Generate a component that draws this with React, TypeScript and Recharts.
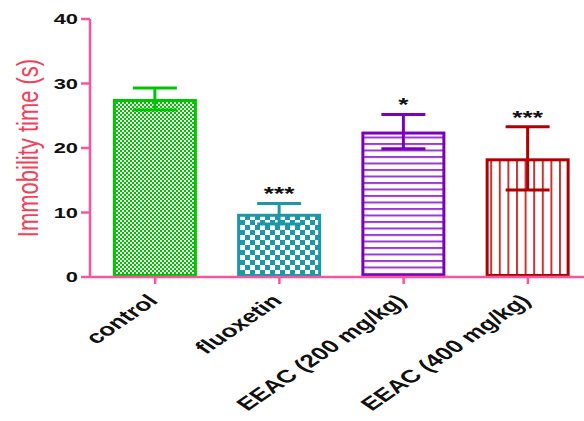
import { BarChart, Bar, XAxis, YAxis, Cell } from 'recharts';

const groups = ['control', 'fluoxetin', 'EEAC (200 mg/kg)', 'EEAC (400 mg/kg)'];
const means = [27.6, 9.8, 22.55, 18.4];
const sems = [1.72, 1.6, 2.65, 4.9];
const stars = ['', '***', '*', '***'];
const yTicks = [0, 10, 20, 30, 40];

const edgeColors = ['#00c400', '#1b98a8', '#7a00bd', '#b00000'];
const patternIds = ['pat-check-fine', 'pat-check', 'pat-hlines', 'pat-vlines'];

const AXIS = '#f7569f';
const FONT = '"Liberation Sans", Arial, sans-serif';
const STRETCH = 1.46;

const data = groups.map((name, i) => ({
  name,
  mean: means[i],
  sem: sems[i],
  star: stars[i],
  color: edgeColors[i],
}));

function BarWithError(props: any) {
  const { x, y, width, height, payload, fill } = props;
  const ppu = payload.mean ? height / payload.mean : 0;
  const cx = x + width / 2;
  const top = y - payload.sem * ppu;
  const bottom = y + payload.sem * ppu;
  const cap = 22;
  const c = payload.color;
  return (
    <g>
      <rect x={x + 1.5} y={y + 1.5} width={width - 3} height={height - 3} fill={fill} stroke={c} strokeWidth={3} />
      <line x1={cx} x2={cx} y1={top} y2={bottom} stroke={c} strokeWidth={3} />
      <line x1={cx - cap} x2={cx + cap} y1={top} y2={top} stroke={c} strokeWidth={3} />
      <line x1={cx - cap} x2={cx + cap} y1={bottom} y2={bottom} stroke={c} strokeWidth={3} />
      {payload.star && (
        <text
          transform={`translate(${cx},${top - 3}) scale(${STRETCH},1)`}
          textAnchor="middle"
          fontSize={18}
          fontWeight="bold"
          fontFamily={FONT}
          fill="#111"
        >
          {payload.star}
        </text>
      )}
    </g>
  );
}

function YTick(props: any) {
  const { x, y, payload } = props;
  return (
    <text
      transform={`translate(${x},${y}) scale(${STRETCH},1)`}
      textAnchor="end"
      dy="0.36em"
      fontSize={15}
      fontWeight="bold"
      fontFamily={FONT}
      fill="#111"
    >
      {payload.value}
    </text>
  );
}

function XTick(props: any) {
  const { x, y, payload } = props;
  return (
    <text
      transform={`translate(${x + 4},${y + 16}) scale(${STRETCH},1) rotate(-45)`}
      textAnchor="end"
      fontSize={18}
      fontWeight="bold"
      fontFamily={FONT}
      fill="#111"
    >
      {payload.value}
    </text>
  );
}

function YLabel(props: any) {
  const { viewBox } = props;
  const cx = viewBox.x + 28;
  const cy = viewBox.y + viewBox.height / 2;
  return (
    <text
      transform={`translate(${cx},${cy}) scale(1.3,1) rotate(-90)`}
      textAnchor="middle"
      dy="0.35em"
      fontSize={22}
      fontFamily={FONT}
      fill="#f43f57"
    >
      Immobility time (s)
    </text>
  );
}

export default function App() {
  return (
    <div style={{ position: 'absolute', left: 0, top: 0, width: 584, height: 421, overflow: 'hidden', background: '#fff' }}>
      <BarChart
        width={600}
        height={421}
        data={data}
        margin={{ top: 19, right: 10, left: 0, bottom: 0 }}
        barCategoryGap="16%"
      >
        <defs>
          <pattern id="pat-check-fine" width={4} height={4} patternUnits="userSpaceOnUse">
            <rect width={4} height={4} fill="#00c400" />
            <rect width={2} height={2} fill="#ffffff" />
            <rect x={2} y={2} width={2} height={2} fill="#e8ffe8" />
          </pattern>
          <pattern id="pat-check" width={10} height={10} patternUnits="userSpaceOnUse">
            <rect width={10} height={10} fill="#ffffff" />
            <rect width={5} height={5} fill="#1b98a8" />
            <rect x={5} y={5} width={5} height={5} fill="#1b98a8" />
          </pattern>
          <pattern id="pat-hlines" width={6} height={6.5} patternUnits="userSpaceOnUse">
            <rect width={6} height={6.5} fill="#ffffff" />
            <rect y={0} width={6} height={2} fill="#9a3ad0" />
          </pattern>
          <pattern id="pat-vlines" width={8.6} height={6} patternUnits="userSpaceOnUse">
            <rect width={8.6} height={6} fill="#ffffff" />
            <rect x={0} width={2} height={6} fill="#c43535" />
          </pattern>
        </defs>
        <XAxis
          dataKey="name"
          height={144}
          padding={{ left: 3, right: 0 }}
          axisLine={{ stroke: AXIS, strokeWidth: 2.5 }}
          tickLine={{ stroke: AXIS, strokeWidth: 2.5 }}
          tickSize={7}
          tickMargin={2}
          interval={0}
          tick={<XTick />}
        />
        <YAxis
          width={90}
          domain={[0, 40]}
          ticks={yTicks}
          axisLine={{ stroke: AXIS, strokeWidth: 2.5 }}
          tickLine={{ stroke: AXIS, strokeWidth: 2.5 }}
          tickSize={9}
          tickMargin={3}
          tick={<YTick />}
          label={<YLabel />}
        />
        <Bar dataKey="mean" isAnimationActive={false} shape={<BarWithError />}>
          {data.map((d, i) => (
            <Cell key={d.name} fill={`url(#${patternIds[i]})`} />
          ))}
        </Bar>
      </BarChart>
    </div>
  );
}
